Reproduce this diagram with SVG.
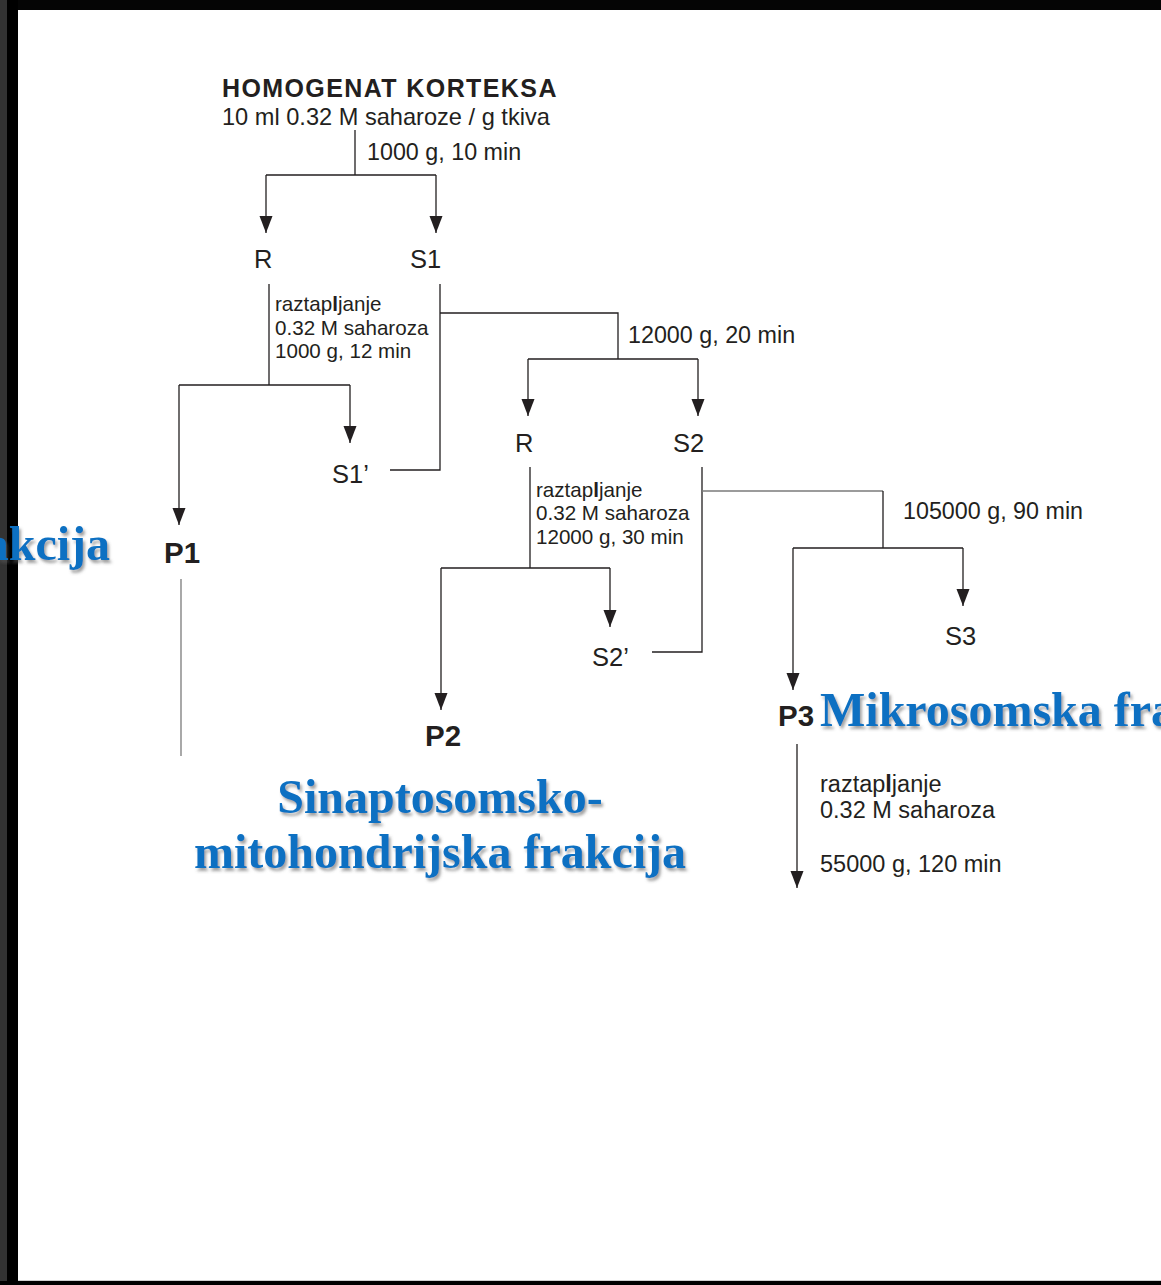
<svg xmlns="http://www.w3.org/2000/svg" width="1161" height="1285" viewBox="0 0 1161 1285">
  <style>
    .lbl { font-family: "Liberation Sans", Arial, sans-serif; fill: #231f20; }
    .title { font-size: 25px; font-weight: bold; letter-spacing: 1.4px; }
    .cond { font-size: 23.3px; }
    .note { font-size: 20.6px; }
    .node { font-size: 25.5px; }
    .pnode { font-size: 29.5px; font-weight: bold; }
    .frac { font-family: "Liberation Serif", "Times New Roman", serif; font-size: 48px; font-weight: bold; fill: #0a70c2; filter: url(#shadow); }
    .ln { fill: none; stroke: #231f20; stroke-width: 1.3; }
    .ln-grey { fill: none; stroke: #7a7a7a; stroke-width: 1.3; }
    .arr { marker-end: url(#head); }
  </style>
  <defs>
    <marker id="head" markerUnits="userSpaceOnUse" markerWidth="14" markerHeight="18" viewBox="0 0 14 18" refX="7" refY="17" orient="0">
      <path d="M0.5,0 L13.5,0 L7,17 Z" fill="#231f20"/>
    </marker>
    <filter id="shadow" x="-5%" y="-20%" width="110%" height="150%">
      <feDropShadow dx="2" dy="3" stdDeviation="1.6" flood-color="#555" flood-opacity="0.55"/>
    </filter>
  </defs>

  <!-- page frame -->
  <rect x="0" y="0" width="1161" height="1285" fill="#ffffff"/>
  <rect x="0" y="0" width="1161" height="10" fill="#050505"/>
  <rect x="0" y="0" width="18" height="1285" fill="#000000"/>
  <rect x="0" y="0" width="7" height="1285" fill="#333333"/>
  <rect x="0" y="1281" width="1161" height="4" fill="#000000"/>
  <line x1="18" y1="1280.5" x2="1161" y2="1280.5" stroke="#cfcfcf" stroke-width="1"/>

  <!-- connectors -->
  <g id="connectors">
    <path class="ln" d="M355,130 V175 M266,175 H436"/>
    <path class="ln arr" d="M266,175 V233"/>
    <path class="ln arr" d="M436,175 V233"/>

    <path class="ln" d="M269,284 V385 M179,385 H350"/>
    <path class="ln arr" d="M179,385 V525"/>
    <path class="ln arr" d="M350,385 V443"/>

    <path class="ln" d="M440,284 V470 H390"/>
    <path class="ln" d="M440,313 H618 V359 M528,359 H698"/>
    <path class="ln arr" d="M528,359 V416"/>
    <path class="ln arr" d="M698,359 V416"/>

    <path class="ln" d="M530,467 V568 M441,568 H610"/>
    <path class="ln arr" d="M441,568 V710"/>
    <path class="ln arr" d="M610,568 V627"/>

    <path class="ln" d="M702,467 V652 H652"/>
    <path class="ln-grey" d="M702,491 H883"/>
    <path class="ln" d="M883,491 V548 M793,548 H963"/>
    <path class="ln arr" d="M793,548 V690"/>
    <path class="ln arr" d="M963,548 V606"/>

    <path class="ln-grey" d="M181,579 V756"/>
    <path class="ln arr" d="M797,744 V888"/>
  </g>

  <!-- starting homogenate -->
  <g id="homogenate">
    <text class="lbl title" x="222" y="97">HOMOGENAT KORTEKSA</text>
    <text class="lbl cond" x="222" y="125" style="font-size:23.6px">10 ml 0.32 M saharoze / g tkiva</text>
    <text class="lbl cond" x="367" y="160">1000 g, 10 min</text>
  </g>

  <!-- first spin -->
  <g id="r1"><text class="lbl node" x="254" y="268">R</text></g>
  <g id="s1"><text class="lbl node" x="410" y="268">S1</text></g>
  <g id="r1-wash">
    <text class="lbl note" x="275" y="311">raztap<tspan font-weight="bold">l</tspan>janje</text>
    <text class="lbl note" x="275" y="335">0.32 M saharoza</text>
    <text class="lbl note" x="275" y="358">1000 g, 12 min</text>
  </g>
  <g id="s1p"><text class="lbl node" x="332" y="483">S1’</text></g>
  <g id="p1"><text class="lbl pnode" x="164" y="563">P1</text></g>
  <g id="nuclear-label"><text class="frac" x="110" y="560" text-anchor="end">frakcija</text></g>

  <!-- second spin -->
  <g id="spin2"><text class="lbl cond" x="628" y="343">12000 g, 20 min</text></g>
  <g id="r2"><text class="lbl node" x="515" y="452">R</text></g>
  <g id="s2"><text class="lbl node" x="673" y="452">S2</text></g>
  <g id="r2-wash">
    <text class="lbl note" x="536" y="497">raztap<tspan font-weight="bold">l</tspan>janje</text>
    <text class="lbl note" x="536" y="520">0.32 M saharoza</text>
    <text class="lbl note" x="536" y="544">12000 g, 30 min</text>
  </g>
  <g id="s2p"><text class="lbl node" x="592" y="666">S2’</text></g>
  <g id="p2"><text class="lbl pnode" x="425" y="746">P2</text></g>
  <g id="p2-label">
    <text class="frac" x="440" y="813" text-anchor="middle">Sinaptosomsko-</text>
    <text class="frac" x="440" y="868" text-anchor="middle">mitohondrijska frakcija</text>
  </g>

  <!-- third spin -->
  <g id="spin3"><text class="lbl cond" x="903" y="519">105000 g, 90 min</text></g>
  <g id="s3"><text class="lbl node" x="945" y="645">S3</text></g>
  <g id="p3"><text class="lbl pnode" x="778" y="726">P3</text></g>
  <g id="p3-label"><text class="frac" x="820" y="726">Mikrosomska frakcija</text></g>
  <g id="p3-wash">
    <text class="lbl cond" x="820" y="792" style="font-size:23.5px">raztap<tspan font-weight="bold">l</tspan>janje</text>
    <text class="lbl cond" x="820" y="818" style="font-size:23.5px">0.32 M saharoza</text>
    <text class="lbl cond" x="820" y="872" style="font-size:23.5px">55000 g, 120 min</text>
  </g>
</svg>
